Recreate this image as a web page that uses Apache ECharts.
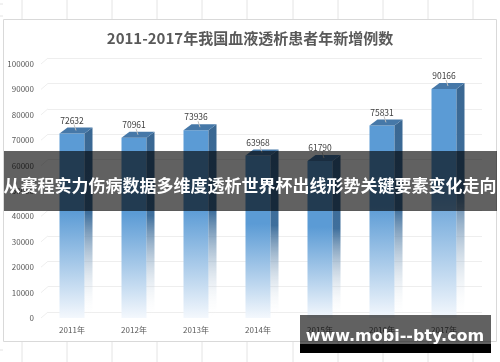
<!DOCTYPE html>
<html><head><meta charset="utf-8">
<script src="https://cdn.jsdelivr.net/npm/echarts@6/dist/echarts.min.js"></script>
<style>html,body{margin:0;padding:0;background:#fff}#c{width:500px;height:362px}</style>
</head><body><div id="c"></div>
<script>
const categories = ['2011年','2012年','2013年','2014年','2015年','2016年','2017年'];
const values = [72632, 70961, 73936, 63968, 61790, 75831, 90166];
const yTicks = [0,10000,20000,30000,40000,50000,60000,70000,80000,90000,100000];
const titleText = '2011-2017年我国血液透析患者年新增例数';
const bannerText = '从赛程实力伤病数据多维度透析世界杯出线形势关键要素变化走向';
const watermarkText = 'www.mobi--bty.com';

const DX = 8, DY = 6, HALF = 12.5;
const chart = echarts.init(document.getElementById('c'));
const cjk = '"Noto Sans CJK SC", "Noto Sans", sans-serif';

const cellX = [22,67,112,157,202,247,293,338,383,428,473];
const sheetLines = [];
cellX.forEach(x => {
  sheetLines.push({type:'line', shape:{x1:x,y1:0,x2:x,y2:19}, style:{stroke:'#e4e4e4',lineWidth:1}, z:0});
  sheetLines.push({type:'line', shape:{x1:x,y1:342,x2:x,y2:362}, style:{stroke:'#e4e4e4',lineWidth:1}, z:0});
});
[4,16,350].forEach(y => sheetLines.push({type:'line', shape:{x1:0,y1:y,x2:3,y2:y}, style:{stroke:'#e4e4e4'}, z:0}));

chart.setOption({
  animation:false,
  title:{text:titleText, left:'center', top:26, textStyle:{fontFamily:cjk, fontSize:15, fontWeight:'bold', color:'#595959'}},
  grid:[
    {left:41, right:25, top:64, bottom:44},
    {left:48, right:18, top:58, bottom:50}
  ],
  xAxis:[
    {type:'category', data:categories, gridIndex:0, axisLine:{show:false}, axisTick:{show:false},
     axisLabel:{fontFamily:cjk, fontSize:8, color:'#595959', margin:8}},
    {type:'category', data:categories, gridIndex:1, show:false}
  ],
  yAxis:[
    {type:'value', gridIndex:0, min:0, max:100000, interval:10000, splitLine:{show:false},
     axisLine:{show:false}, axisTick:{show:false},
     axisLabel:{fontFamily:cjk, fontSize:8, color:'#595959', margin:7, formatter:v=>String(v)}},
    {type:'value', gridIndex:1, min:0, max:100000, interval:10000, axisLabel:{show:false},
     axisLine:{show:false}, axisTick:{show:false}, splitLine:{lineStyle:{color:'#eeeeee'}}}
  ],
  series:[
    {
      type:'custom', xAxisIndex:0, yAxisIndex:0, data:yTicks.map(v=>[v]), z:1, silent:true,
      renderItem:function(params, api){
        const v = api.value(0);
        const p = api.coord([0, v]);
        const x0 = params.coordSys.x;
        return {type:'line', shape:{x1:x0, y1:p[1], x2:x0+7, y2:p[1]-6}, style:{stroke:'#eeeeee', lineWidth:1}};
      }
    },
    {
      type:'custom', xAxisIndex:0, yAxisIndex:0, z:3,
      data: values.map((v,i)=>[i,v]),
      renderItem:function(params, api){
        const i = api.value(0), v = api.value(1);
        const top = api.coord([i, v]);
        const bot = api.coord([i, 0]);
        const cx = top[0];
        const l = cx - HALF, r = cx + HALF, t = top[1], b = bot[1];
        return {type:'group', children:[
          {type:'rect', shape:{x:l, y:t, width:r-l, height:b-t},
           style:{fill:new echarts.graphic.LinearGradient(0,0,0,1,[
             {offset:0,color:'#5B9BD5'},{offset:0.42,color:'#5B9BD5'},{offset:1,color:'#f4f8fd'}])}},
          {type:'polygon', shape:{points:[[r,t],[r+DX,t-DY],[r+DX,b-DY],[r,b]]},
           style:{fill:new echarts.graphic.LinearGradient(0,0,0,1,[
             {offset:0,color:'#3a6792'},{offset:0.45,color:'#3f6f9c'},{offset:1,color:'rgba(255,255,255,0)'}])}},
          {type:'polygon', shape:{points:[[l,t],[r,t],[r+DX,t-DY],[l+DX,t-DY]]},
           style:{fill:'#4678a8'}},
          {type:'line', shape:{x1:cx+4, y1:t-3, x2:cx+2, y2:t-9}, style:{stroke:'#bfbfbf', lineWidth:1}},
          {type:'text', style:{text:String(v), x:cx, y:t-13, align:'center', verticalAlign:'middle',
            fontFamily:cjk, fontSize:8.5, fill:'#404040'}}
        ]};
      }
    }
  ],
  graphic:[
    ...sheetLines,
    {type:'rect', shape:{x:3.5,y:19.5,width:493,height:322}, style:{fill:'none', stroke:'#d9d9d9', lineWidth:1}, z:0},
    {type:'rect', shape:{x:4,y:151,width:493,height:60}, style:{fill:'rgba(0,0,0,0.62)'}, z:100},
    {type:'text', style:{text:bannerText, x:250, y:186, align:'center', verticalAlign:'middle',
      fontFamily:cjk, fontSize:17, fontWeight:'bold', fill:'#ffffff'}, z:101},
    {type:'rect', shape:{x:300,y:315,width:191,height:29}, style:{fill:'rgba(0,0,0,0.62)'}, z:100},
    {type:'rect', shape:{x:300,y:344,width:191,height:9}, style:{fill:'#000000'}, z:100},
    {type:'text', style:{text:watermarkText, x:395, y:337, align:'center', verticalAlign:'middle',
      fontFamily:'"DejaVu Sans", sans-serif', fontSize:16, fontWeight:'bold', fill:'#ffffff'}, z:101}
  ]
});
</script></body></html>
